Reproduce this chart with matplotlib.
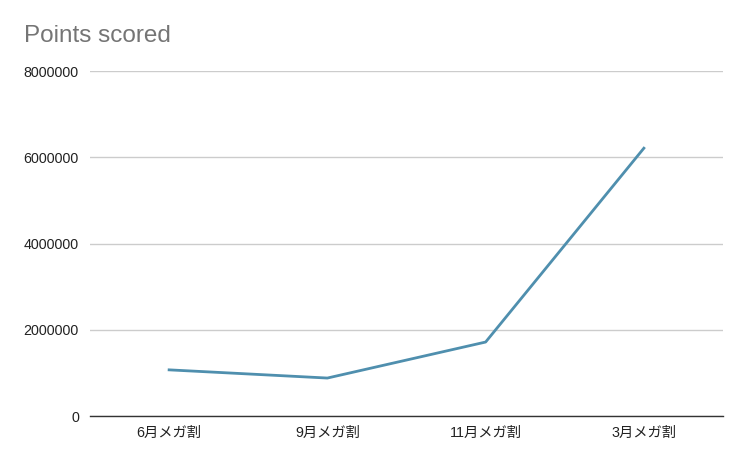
import matplotlib
matplotlib.use("Agg")
import matplotlib.pyplot as plt

categories = ["6月メガ割", "9月メガ割", "11月メガ割", "3月メガ割"]
points = [1070000, 880000, 1715000, 6210000]
yticks = [0, 2000000, 4000000, 6000000, 8000000]

plt.rcParams['font.family'] = ['Liberation Sans', 'Noto Sans CJK JP', 'DejaVu Sans']

fig = plt.figure(figsize=(7.48, 4.62), dpi=100)
ax = fig.add_axes([90/748, 46/462, 633/748, 345/462])
x = list(range(len(categories)))
ax.plot(x, points, color='#4f8fae', linewidth=2)
ax.set_xlim(-0.5, len(categories) - 0.5)
ax.set_ylim(0, 8000000)
ax.set_yticks(yticks)
ax.set_yticklabels([str(v) for v in yticks])
ax.set_xticks(x)
ax.set_xticklabels(categories)
ax.grid(axis='y', color='#cccccc', linewidth=1)
ax.set_axisbelow(True)
for s in ['top', 'right', 'left']:
    ax.spines[s].set_visible(False)
ax.spines['bottom'].set_color('#333333')
ax.spines['bottom'].set_linewidth(1)
ax.tick_params(axis='both', length=0, labelsize=10.3, colors='#222222')
ax.tick_params(axis='y', pad=8)
ax.tick_params(axis='x', pad=7)
fig.text(24/748, 1 - 36/462, "Points scored", fontsize=17.5, color='#757575', va='center', ha='left')
fig.savefig("out.png", dpi=100)
